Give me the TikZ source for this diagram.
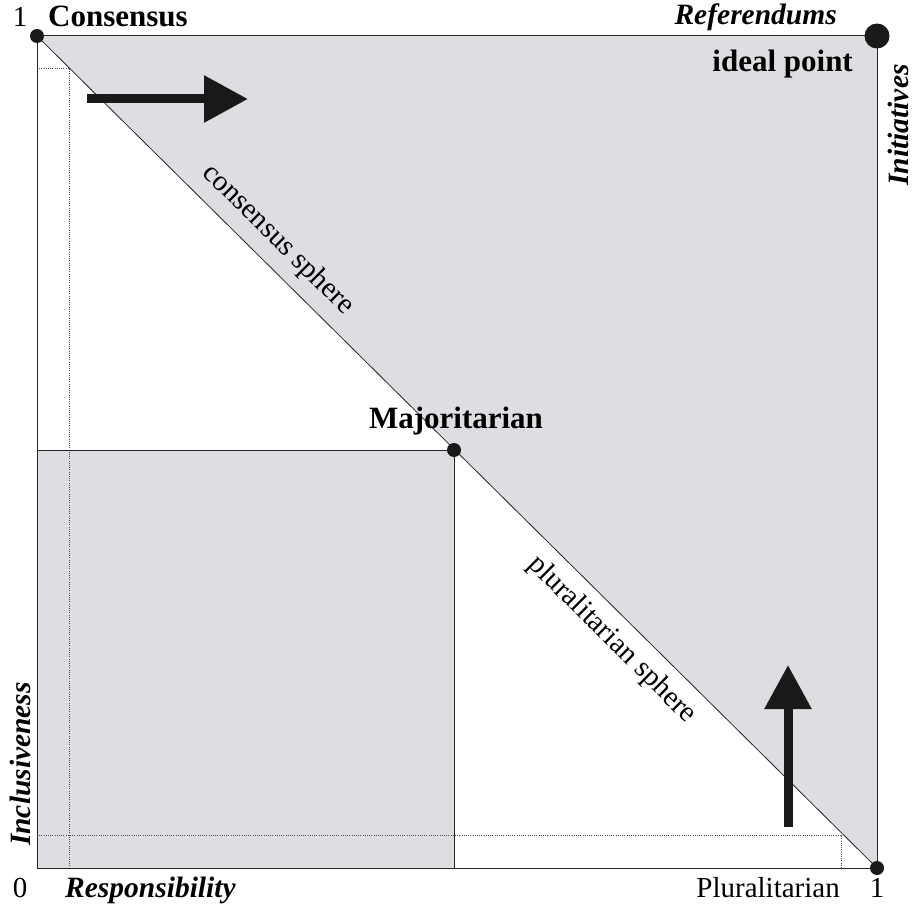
\documentclass[tikz,border=0pt]{standalone}
\usepackage{fontspec}
\setmainfont{Liberation Serif}
\usetikzlibrary{arrows.meta,positioning,calc}
\definecolor{spheregray}{RGB}{221,222,225}

\begin{document}
\begin{tikzpicture}[
  x=1pt,y=-1pt,
  lbl/.style={inner sep=0pt,font=\fontsize{29}{32}\selectfont},
  blbl/.style={inner sep=0pt,font=\fontsize{31}{34}\selectfont\bfseries},
  bilbl/.style={inner sep=0pt,font=\fontsize{29.5}{32}\selectfont\bfseries\itshape},
  dot/.style={circle,fill=black!90,inner sep=0pt,minimum size=14pt},
  frame/.style={line width=1pt,draw=black!85},
  edge/.style={line width=0.8pt,draw=black!85},
  guide/.style={line width=0.6pt,draw=black!70,dash pattern=on 1pt off 1.2pt},
  push/.style={line width=9pt,draw=black!90,-{Triangle[length=44pt,width=45pt]}}
]
\useasboundingbox (0,0) rectangle (916,904);
% corners of the square
\coordinate (tl) at (37,36);
\coordinate (tr) at (877,36);
\coordinate (bl) at (37,868);
\coordinate (br) at (877,868);
\coordinate (maj) at (454,450);
% shaded spheres
\fill[spheregray] (tl) -- (tr) -- (br) -- cycle;
\fill[spheregray] (bl) rectangle (maj);
% dotted guides
\coordinate (gtop) at (69,68);
\coordinate (gbot) at (841,835);
\draw[guide] (tl |- gtop) -- (gtop) -- (gtop |- bl);
\draw[guide] (bl |- gbot) -- (gbot) -- (gbot |- bl);
% frame and lines
\draw[frame] (tl) rectangle (br);
\draw[edge] (tl) -- (br);
\draw[edge] (tl |- maj) -- (maj) -- (maj |- bl);
% points
\node[dot] (consdot) at (tl) {};
\node[dot] (majdot) at (maj) {};
\node[dot] (pludot) at (br) {};
\node[dot,minimum size=25pt] (idealdot) at (tr) {};
% arrows
\coordinate (rs) at (87,99);
\coordinate (re) at (248,99);
\coordinate (us) at (788,827);
\coordinate (ue) at (788,665);
\draw[push] (rs) -- (re);
\draw[push] (us) -- (ue);
% labels
\node[lbl,anchor=base] (onetop) at (20,27) {1};
\node[blbl,anchor=base west] (cons) at (48,27) {Consensus};
\node[bilbl,anchor=base east] (refs) at (837,25) {Referendums};
\node[blbl,anchor=base east] (ideal) at (853,72) {ideal point};
\node[bilbl,rotate=90] (init) at (898,125) {Initiatives};
\node[bilbl,rotate=90] (incl) at (20,764) {Inclusiveness};
\node[lbl,anchor=base] (zero) at (20,897) {0};
\node[bilbl,anchor=base west] (resp) at (65,897) {Responsibility};
\node[lbl,anchor=base east] (plur) at (840,897) {Pluralitarian};
\node[lbl,anchor=base] (onebot) at (877,897) {1};
\node[blbl,anchor=base] (majl) at (456,428) {Majoritarian};
\node[lbl,rotate=-44.7] (conssph) at (278,240) {consensus sphere};
\node[lbl,rotate=-44.7] (plursph) at (612,640) {pluralitarian sphere};
\end{tikzpicture}
\end{document}
